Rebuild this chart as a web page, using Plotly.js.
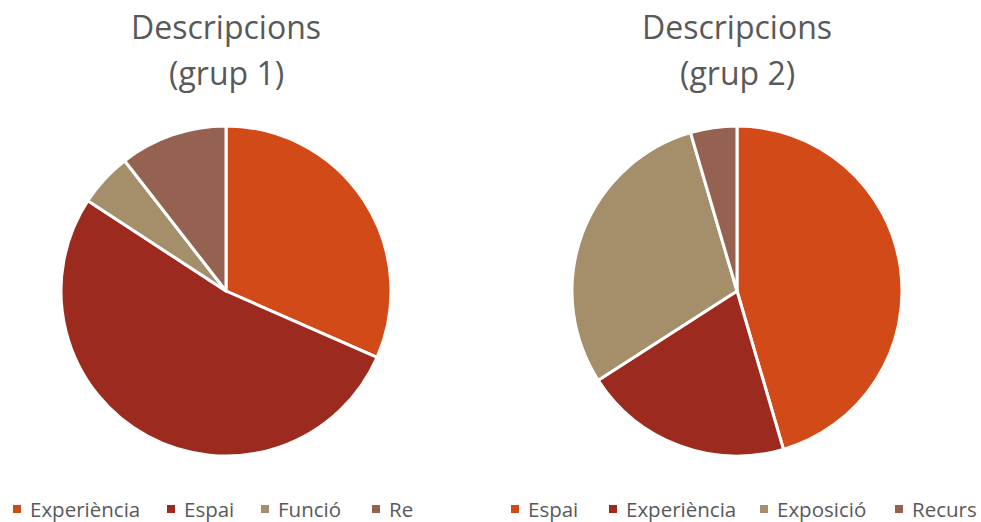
<!DOCTYPE html>
<html>
<head>
<meta charset="utf-8">
<script src="https://cdn.plot.ly/plotly-3.0.1.min.js"></script>
<style>
html,body{margin:0;padding:0;background:#fff;}
#c1{position:absolute;left:0;top:0;width:413px;height:522px;overflow:hidden;}
#c2{position:absolute;left:413px;top:0;width:568px;height:522px;overflow:hidden;}
</style>
</head>
<body>
<div id="c1"></div>
<div id="c2"></div>
<script>
// Data
const labels1 = ["Experiència", "Espai", "Funció", "Recurs"];
const values1 = [6, 10, 1, 2];
const labels2 = ["Espai", "Experiència", "Exposició", "Recurs"];
const values2 = [20, 9, 13, 2];
const title1 = ["Descripcions", "(grup 1)"];
const title2 = ["Descripcions", "(grup 2)"];

const colors = ["#D24A17", "#9C2A1E", "#A58F6B", "#956251"];
const textColor = "#595959";
const H = 522;

function makeChart(id, W, cx, labels, values, title, legendX) {
  const r = 165, cy = 291;
  const fx = p => p / W, fy = p => 1 - p / H;
  const annotations = [
    {text: title[0], x: fx(cx), y: fy(27), xref: 'paper', yref: 'paper', xanchor: 'center', yanchor: 'middle', showarrow: false, font: {family: 'Open Sans', size: 32, color: textColor}},
    {text: title[1], x: fx(cx), y: fy(73), xref: 'paper', yref: 'paper', xanchor: 'center', yanchor: 'middle', showarrow: false, font: {family: 'Open Sans', size: 32, color: textColor}}
  ];
  const shapes = [];
  labels.forEach((lab, i) => {
    const sx = legendX[i];
    shapes.push({type: 'rect', xref: 'paper', yref: 'paper', x0: fx(sx), x1: fx(sx + 8), y0: fy(513), y1: fy(505), fillcolor: colors[i], line: {width: 0}});
    annotations.push({text: lab, x: fx(sx + 15), y: fy(509), xref: 'paper', yref: 'paper', xanchor: 'left', yanchor: 'middle', showarrow: false, font: {family: 'Open Sans', size: 20.5, color: textColor}});
  });
  const trace = {
    type: 'pie', labels: labels, values: values, sort: false, direction: 'clockwise', rotation: 0,
    marker: {colors: colors, line: {color: '#ffffff', width: 3}},
    textinfo: 'none', hoverinfo: 'label+value+percent', showlegend: false,
    domain: {x: [fx(cx - r), fx(cx + r)], y: [fy(cy + r), fy(cy - r)]}
  };
  const layout = {
    width: W, height: H, margin: {l: 0, r: 0, t: 0, b: 0},
    paper_bgcolor: '#ffffff', showlegend: false,
    annotations: annotations, shapes: shapes
  };
  Plotly.newPlot(id, [trace], layout, {displayModeBar: false, staticPlot: true});
}

makeChart('c1', 413, 226, labels1, values1, title1, [13, 167, 261, 372]);
makeChart('c2', 568, 324, labels2, values2, title2, [511 - 413, 609 - 413, 760 - 413, 895 - 413]);
</script>
</body>
</html>
